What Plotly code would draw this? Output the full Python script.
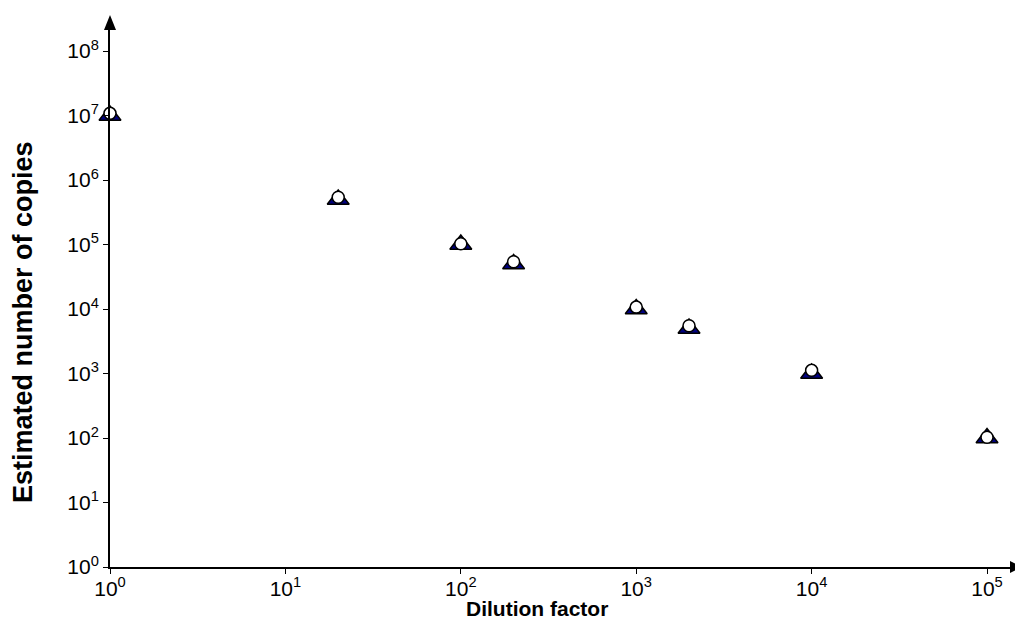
import plotly.graph_objects as go

dilution = [1, 20, 100, 200, 1000, 2000, 10000, 100000]
expected_copies = [1e7, 5e5, 1e5, 5e4, 1e4, 5e3, 1e3, 1e2]
estimated_copies = [1.08e7, 5.4e5, 1.03e5, 5.4e4, 1.07e4, 5.5e3, 1.12e3, 1.03e2]
estimated_err = [0.15e7, 0.7e5, 0.15e5, 0.7e4, 0.15e4, 0.7e3, 0.15e3, 0.15e2]

x_tickvals = [1, 10, 100, 1000, 10000, 100000]
x_ticktext = ["10<sup>0</sup>", "10<sup>1</sup>", "10<sup>2</sup>", "10<sup>3</sup>", "10<sup>4</sup>", "10<sup>5</sup>"]
y_tickvals = [10 ** i for i in range(9)]
y_ticktext = ["10<sup>%d</sup>" % i for i in range(9)]

fig = go.Figure()
fig.add_trace(go.Scatter(
    x=dilution, y=expected_copies, mode="markers",
    marker=dict(symbol="triangle-up", size=19, color="#000080",
                line=dict(color="black", width=1.5)),
    showlegend=False, cliponaxis=False))
fig.add_trace(go.Scatter(
    x=dilution, y=estimated_copies, mode="markers",
    marker=dict(symbol="circle", size=12, color="white",
                line=dict(color="black", width=1.5)),
    error_y=dict(type="data", array=estimated_err, color="black", thickness=1, width=3),
    showlegend=False, cliponaxis=False))

font = "Liberation Sans, Arial, sans-serif"
# page body has an 8px margin; figure size and margins compensate for it
fig.update_layout(
    width=1015, height=620,
    margin=dict(l=102, r=13, t=22, b=61, autoexpand=False),
    plot_bgcolor="white", paper_bgcolor="white",
    font=dict(family=font, size=21, color="black"),
    xaxis=dict(type="log", range=[0, 5.131], showgrid=False, zeroline=False,
               showline=True, linecolor="black", linewidth=2,
               ticks="outside", ticklen=5, tickwidth=1, tickcolor="black",
               tickvals=x_tickvals, ticktext=x_ticktext,
               ticklabelstandoff=-3,
               tickfont=dict(size=21)),
    yaxis=dict(type="log", range=[0, 8.326], showgrid=False, zeroline=False,
               showline=True, linecolor="black", linewidth=2,
               ticks="outside", ticklen=5, tickwidth=1, tickcolor="black",
               tickvals=y_tickvals, ticktext=y_ticktext,
               tickfont=dict(size=21)),
    shapes=[
        dict(type="path", xref="paper", yref="paper",
             xsizemode="pixel", ysizemode="pixel", xanchor=1, yanchor=0,
             path="M 0 -6 L 12 0 L 0 6 Z", fillcolor="black", line=dict(width=0)),
        dict(type="path", xref="paper", yref="paper",
             xsizemode="pixel", ysizemode="pixel", xanchor=0, yanchor=1,
             path="M -6 0 L 0 15 L 6 0 Z", fillcolor="black", line=dict(width=0)),
    ],
    annotations=[
        dict(text="<b>Dilution factor</b>", xref="paper", yref="paper",
             x=(537 - 110) / 900, y=0, yshift=-41, showarrow=False,
             font=dict(size=21), xanchor="center", yanchor="middle"),
        dict(text="<b>Estimated number of copies</b>", xref="paper", yref="paper",
             x=0, xshift=-87, y=(567 - 322) / 537, showarrow=False, textangle=-90,
             font=dict(size=27), xanchor="center", yanchor="middle"),
    ],
)

fig.write_html("out.html")
